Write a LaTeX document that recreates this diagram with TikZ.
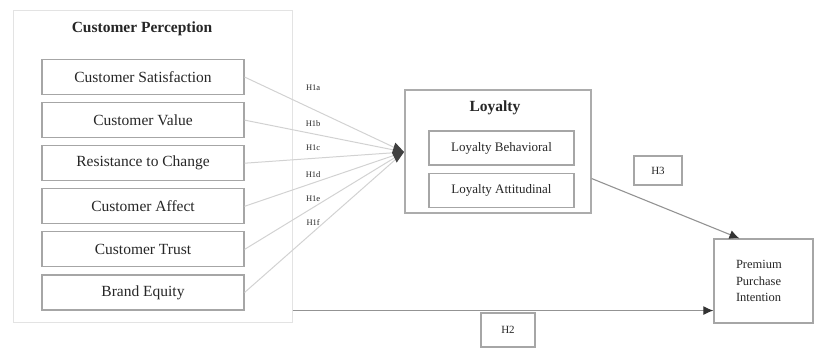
\documentclass[tikz,border=0pt]{standalone}
\usepackage{fontspec}
\setmainfont{Liberation Serif}
\usetikzlibrary{positioning, arrows.meta}
\tikzset{
	x=1pt, y=-1pt,
	node distance=7pt,
	>={Latex[length=10pt,width=9pt,fill=gray!40!black,color=gray!40!black]},
	every node/.style={text=black!85},
	groupbox/.style={draw=gray!22, line width=1pt},
	loybox/.style={draw=gray!65, line width=1.2pt},
	grouptitle/.style={font=\fontsize{15.5}{18}\selectfont\bfseries},
	factor/.style={draw=gray!70, line width=1.1pt, minimum width=202pt, minimum height=35pt, inner sep=0pt, font=\fontsize{15.5}{18}\selectfont},
	dimbox/.style={draw=gray!70, line width=1.3pt, minimum width=145pt, minimum height=34pt, inner sep=0pt, font=\fontsize{13}{15}\selectfont},
	outcome/.style={draw=gray!70, line width=1.2pt, minimum width=99pt, minimum height=84pt, inner xsep=22pt, text width=55pt, align=left, font=\fontsize{12.5}{16.5}\selectfont},
	hbox/.style={draw=gray!70, line width=1.1pt, inner sep=0pt, font=\fontsize{11}{13}\selectfont},
	hlab/.style={inner sep=1pt, font=\fontsize{8.5}{10}\selectfont},
	link/.style={draw=gray!35, line width=1pt},
	path/.style={draw=gray!85, line width=1.1pt, ->}
}
\begin{document}
\begin{tikzpicture}
	\useasboundingbox (0,0) rectangle (814,349);

	% customer perception
	\node[groupbox, minimum width=279pt, minimum height=312pt] (percep) at (152.5,166) {};
	\node[grouptitle] (ptitle) at (142,29) {Customer Perception};
	\node[factor] (cs) at (143,77) {Customer Satisfaction};
	\node[factor, below=of cs] (cv) {Customer Value};
	\node[factor, below=of cv] (rc) {Resistance to Change};
	\node[factor, below=of rc] (ca) {Customer Affect};
	\node[factor, below=of ca] (ct) {Customer Trust};
	\node[factor, below=of ct] (be) {Brand Equity};

	% loyalty
	\node[loybox, minimum width=186pt, minimum height=123pt] (loyalty) at (498,151.5) {};
	\node[grouptitle] (ltitle) at (495,108) {Loyalty};
	\node[dimbox] (lb) at (501.5,148) {Loyalty Behavioral};
	\node[dimbox, below=of lb] (la) {Loyalty Attitudinal};

	% outcome and hypotheses
	\node[outcome] (ppi) at (763.5,281) {Premium\\Purchase\\Intention};
	\node[hbox, minimum width=48pt, minimum height=29pt] (h3) at (658,170.5) {H3};
	\node[hbox, minimum width=54pt, minimum height=34pt] (h2) at (508,330) {H2};

	\coordinate (hub) at (404,152);

	\draw[link]
	(cs.east) edge node[hlab, pos=.43, above=17pt]{H1a} (hub)
	(cv.east) edge node[hlab, pos=.43, above=6pt]{H1b} (hub)
	(ca.east) edge node[hlab, pos=.43, above=4pt]{H1d} (hub)
	(ct.east) edge node[hlab, pos=.43, above=4pt]{H1e} (hub)
	(be.east) edge node[hlab, pos=.43, above=5pt]{H1f} (hub)
	(rc.east) edge[-{Kite[length=12pt,width=20pt,inset=4pt,fill=gray!50!black,color=gray!50!black]}] node[hlab, pos=.43, above=6pt]{H1c} (hub)
	;

	\draw[path] ([yshift=-27pt]loyalty.east) -- ([xshift=26pt]ppi.north west);
	\draw[path] (be.south -| percep.east) -- (be.south -| ppi.west);

\end{tikzpicture}
\end{document}
